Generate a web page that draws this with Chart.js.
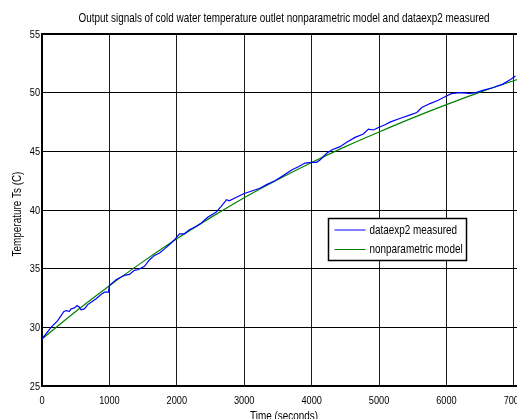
<!DOCTYPE html>
<html>
<head>
<meta charset="utf-8">
<title>Cold water temperature outlet</title>
<script src="https://cdn.jsdelivr.net/npm/chart.js@4"></script>
<style>
  html, body { margin: 0; padding: 0; background: #fff; overflow: hidden; width: 517px; height: 419px; }
  #wrap { width: 526px; height: 425px; position: relative; }
</style>
</head>
<body>
<div id="wrap"><canvas id="chart" width="526" height="425"></canvas></div>
<script>
// Measured outlet temperature (dataexp2): time in s, temperature in C
const measuredTime = [0, 134, 233, 322, 356, 406, 431, 480, 520, 554, 579, 629, 678, 728, 802, 876, 926, 985, 1000,
  1099, 1173, 1223, 1297, 1371, 1421, 1520, 1596, 1670, 1744, 1818, 1892, 1966, 2039, 2113, 2187, 2286, 2360,
  2458, 2581, 2655, 2739, 2778, 2877, 3000, 3123, 3233, 3332, 3455, 3579, 3703, 3802, 3901, 4000, 4074, 4124,
  4223, 4297, 4421, 4520, 4644, 4767, 4842, 4916, 5000, 5089, 5171, 5317, 5463, 5561, 5634, 5756, 5878, 6000,
  6073, 6195, 6341, 6439, 6537, 6683, 6829, 6951, 7024];
const measuredTemp = [29.0, 30.0, 30.57, 31.34, 31.43, 31.37, 31.57, 31.66, 31.86, 31.71, 31.49, 31.57, 31.94, 32.14,
  32.43, 32.8, 33.0, 33.0, 33.57, 34.06, 34.29, 34.43, 34.51, 34.86, 34.91, 35.2, 35.76, 36.13, 36.33, 36.69,
  37.06, 37.46, 37.97, 37.97, 38.31, 38.59, 38.87, 39.38, 39.8, 40.28, 40.88, 40.79, 41.07, 41.41, 41.64, 41.85,
  42.16, 42.5, 42.93, 43.41, 43.69, 44.0, 44.06, 44.06, 44.26, 44.83, 45.11, 45.4, 45.77, 46.19, 46.48, 46.9,
  46.82, 47.05, 47.27, 47.51, 47.82, 48.11, 48.31, 48.73, 49.07, 49.35, 49.72, 49.92, 50.0, 49.94, 50.0, 50.2,
  50.42, 50.71, 51.13, 51.41];

// Nonparametric model output
const modelTime = [0, 500, 1000, 1500, 2000, 2500, 3000, 3500, 4000, 4500, 5000, 5500, 6000, 6500, 7000, 7100];
const modelTemp = [29.0, 31.35, 33.55, 35.6, 37.55, 39.35, 41.05, 42.6, 44.05, 45.4, 46.65, 47.85, 48.98, 50.05, 51.02, 51.2];

// Axis ticks
const xTicks = [0, 1000, 2000, 3000, 4000, 5000, 6000, 7000];
const yTicks = [25, 30, 35, 40, 45, 50, 55];

const TITLE = 'Output signals of cold water temperature outlet nonparametric model and dataexp2 measured';
const X_TITLE = 'Time (seconds)';
const Y_TITLE = 'Temperature Ts (C)';

const FAMILY = '"Liberation Sans", Arial, sans-serif';
const TICK_SIZE = 11.5;
const LABEL_SIZE = 12.4;
const NARROW = 0.8;   // horizontal squeeze of all lettering

const toPoints = (xs, ys) => xs.map((x, i) => ({ x: x, y: ys[i] }));

// Condensed text: drawn with a horizontal squeeze around its anchor point
function narrowText(ctx, text, x, y, size, align, baseline, rotate) {
  ctx.save();
  ctx.translate(x, y);
  if (rotate) ctx.rotate(rotate);
  ctx.scale(NARROW, 1);
  ctx.font = `${size}px ${FAMILY}`;
  ctx.fillStyle = '#000';
  ctx.textAlign = align;
  ctx.textBaseline = baseline;
  ctx.fillText(text, 0, 0);
  ctx.restore();
}

// Frame line along the top and right of the plotting area
const axesFrame = {
  id: 'axesFrame',
  afterDatasetsDraw(chart) {
    const { ctx, chartArea: a } = chart;
    ctx.save();
    ctx.strokeStyle = '#000';
    ctx.lineWidth = 2;
    ctx.beginPath();
    ctx.moveTo(a.left, a.top);
    ctx.lineTo(a.right, a.top);
    ctx.lineTo(a.right, a.bottom);
    ctx.stroke();
    ctx.restore();
  }
};

// Title, tick labels and axis titles in condensed lettering
const lettering = {
  id: 'lettering',
  afterDraw(chart) {
    const { ctx, chartArea: a, scales: { x, y } } = chart;
    const cx = (a.left + a.right) / 2;
    narrowText(ctx, TITLE, cx, 22, LABEL_SIZE, 'center', 'alphabetic');
    xTicks.forEach(v => narrowText(ctx, String(v), x.getPixelForValue(v), a.bottom + 17.5, TICK_SIZE, 'center', 'alphabetic'));
    yTicks.forEach(v => narrowText(ctx, String(v), a.left - 2, y.getPixelForValue(v) + 0.5, TICK_SIZE, 'right', 'middle'));
    narrowText(ctx, X_TITLE, cx, a.bottom + 33.5, LABEL_SIZE, 'center', 'alphabetic');
    narrowText(ctx, Y_TITLE, 17.5, (a.top + a.bottom) / 2 + 4, LABEL_SIZE, 'center', 'middle', -Math.PI / 2);
  }
};

// Boxed legend inside the plotting area
const boxLegend = {
  id: 'boxLegend',
  afterDatasetsDraw(chart) {
    const { ctx } = chart;
    const box = { x: 328.5, y: 218.5, w: 138, h: 42 };
    ctx.save();
    ctx.fillStyle = '#fff';
    ctx.fillRect(box.x, box.y, box.w, box.h);
    ctx.strokeStyle = '#000';
    ctx.lineWidth = 1.5;
    ctx.strokeRect(box.x, box.y, box.w, box.h);
    chart.data.datasets.forEach((ds, i) => {
      const yy = box.y + 11.5 + i * 19.5;
      ctx.strokeStyle = ds.borderColor;
      ctx.lineWidth = 1;
      ctx.beginPath();
      ctx.moveTo(box.x + 6, yy);
      ctx.lineTo(box.x + 37, yy);
      ctx.stroke();
      narrowText(ctx, ds.label, box.x + 41, yy + 0.5, LABEL_SIZE, 'left', 'middle');
    });
    ctx.restore();
  }
};

new Chart(document.getElementById('chart'), {
  type: 'line',
  data: {
    datasets: [
      {
        label: 'dataexp2 measured',
        data: toPoints(measuredTime, measuredTemp),
        borderColor: '#0000ff',
        borderWidth: 1.2,
        pointRadius: 0,
        tension: 0,
        fill: false
      },
      {
        label: 'nonparametric model',
        data: toPoints(modelTime, modelTemp),
        borderColor: '#008000',
        borderWidth: 1.2,
        pointRadius: 0,
        cubicInterpolationMode: 'monotone',
        fill: false
      }
    ]
  },
  options: {
    responsive: false,
    devicePixelRatio: 1,
    animation: false,
    layout: { padding: { top: 34, left: 0, right: 0, bottom: 0 } },
    plugins: {
      legend: { display: false },
      tooltip: { enabled: false },
      title: { display: false }
    },
    scales: {
      x: {
        type: 'linear',
        min: 0,
        max: 7180,
        afterBuildTicks: s => { s.ticks = xTicks.map(v => ({ value: v })); },
        afterFit: s => { s.height = 39; },
        ticks: { display: false },
        grid: { color: '#1a1a1a', lineWidth: 1, drawTicks: false },
        border: { color: '#000', width: 2 }
      },
      y: {
        min: 25,
        max: 55,
        afterBuildTicks: s => { s.ticks = yTicks.map(v => ({ value: v })); },
        afterFit: s => { s.width = 42; },
        ticks: { display: false },
        grid: { color: '#000', lineWidth: 1, drawTicks: false },
        border: { color: '#000', width: 2 }
      }
    }
  },
  plugins: [axesFrame, boxLegend, lettering]
});
</script>
</body>
</html>
